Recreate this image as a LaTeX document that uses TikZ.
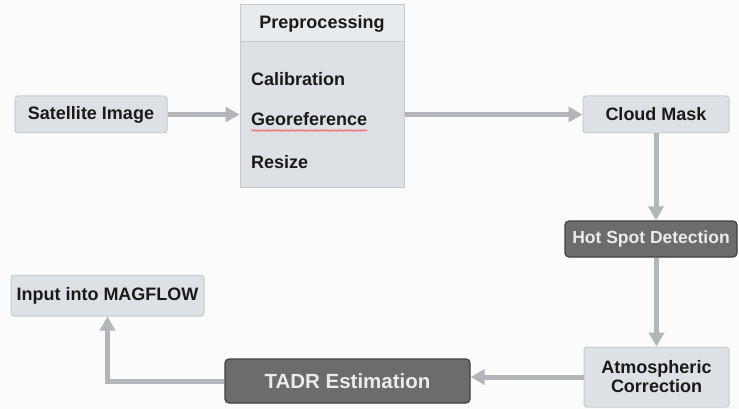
\documentclass[tikz,border=0pt]{standalone}
\usepackage{fontspec}
\setmainfont{Liberation Sans}
\usepackage{xcolor}
\usetikzlibrary{positioning}
\usetikzlibrary{arrows.meta}
\usetikzlibrary{decorations.pathmorphing}

\definecolor{pagebg}{HTML}{FBFBFB}
\definecolor{boxfill}{HTML}{DDE1E6}
\definecolor{headfill}{HTML}{E8EBEE}
\definecolor{boxline}{HTML}{C6CBD1}
\definecolor{darkfill}{HTML}{6C6C6C}
\definecolor{darkline}{HTML}{404040}
\definecolor{arrowgray}{HTML}{B2B6BA}
\definecolor{inkblack}{HTML}{1A1A1A}

\tikzset{
  lightbox/.style={draw=boxline, fill=boxfill, rounded corners=3pt, line width=1pt,
    text=inkblack, font=\bfseries\fontsize{18}{19}\selectfont, inner sep=0pt, align=center},
  darkbox/.style={draw=darkline, fill=darkfill, rounded corners=4pt, line width=1.2pt,
    text=white!92!black, font=\bfseries\fontsize{17.5}{19}\selectfont, inner sep=0pt},
  itemtext/.style={text=inkblack, font=\bfseries\fontsize{18}{19}\selectfont, inner sep=0pt, anchor=base west},
  flow/.style={draw=arrowgray, line width=5pt, -{Triangle[width=15pt,length=14pt]}},
}

\begin{document}
\begin{tikzpicture}[x=1pt,y=-1pt]
\fill[pagebg] (0,0) rectangle (739,409);
\useasboundingbox (0,0) rectangle (739,409);

% top row
\node[lightbox, minimum width=152pt, minimum height=37pt] (sat) at (91,114.5) {Satellite Image};

\node[draw=boxline, fill=boxfill, line width=1pt, minimum width=164pt, minimum height=182pt, inner sep=0pt] (prep) at (322,96) {};
\node[draw=boxline, fill=headfill, line width=1pt, minimum width=164pt, minimum height=37pt, inner sep=0pt,
  anchor=north, text=inkblack, font=\bfseries\fontsize{18}{19}\selectfont] (prephead) at (prep.north) {Preprocessing};
\node[itemtext] (calib) at (251,86) {Calibration};
\node[itemtext] (georef) at (251,126) {Georeference};
\node[itemtext] (resize) at (251,168) {Resize};
\draw[red!75, line width=0.6pt, decorate, decoration={snake, amplitude=0.8pt, segment length=3pt}]
  ([yshift=-4.5pt]georef.base west) -- ([yshift=-4.5pt]georef.base east);

\node[lightbox, minimum width=146pt, minimum height=37pt] (cloud) at (656,114.5) {Cloud Mask};

% right column and bottom row
\node[darkbox, minimum width=172pt, minimum height=36pt] (hot) at (651,239) {Hot Spot Detection};
\node[lightbox, minimum width=145pt, minimum height=60pt] (atm) at (656.5,377) {Atmospheric\\Correction};
\node[darkbox, minimum width=245pt, minimum height=44pt, font=\bfseries\fontsize{20.5}{22}\selectfont] (tadr) at (347.5,381) {TADR Estimation};
\node[lightbox, minimum width=193pt, minimum height=41pt] (input) at (107.5,295.5) {Input into MAGFLOW};

% connectors
\draw[flow] (sat.east) -- (prep.west |- sat.east);
\draw[flow] (prep.east |- cloud.west) -- (cloud.west);
\draw[flow] (cloud.south) -- (cloud.south |- hot.north);
\draw[flow] (atm.north |- hot.south) -- (atm.north);
\draw[flow] (atm.west) -- (atm.west -| tadr.east);
\draw[flow] (tadr.west) -| (input.south);
\end{tikzpicture}
\end{document}
